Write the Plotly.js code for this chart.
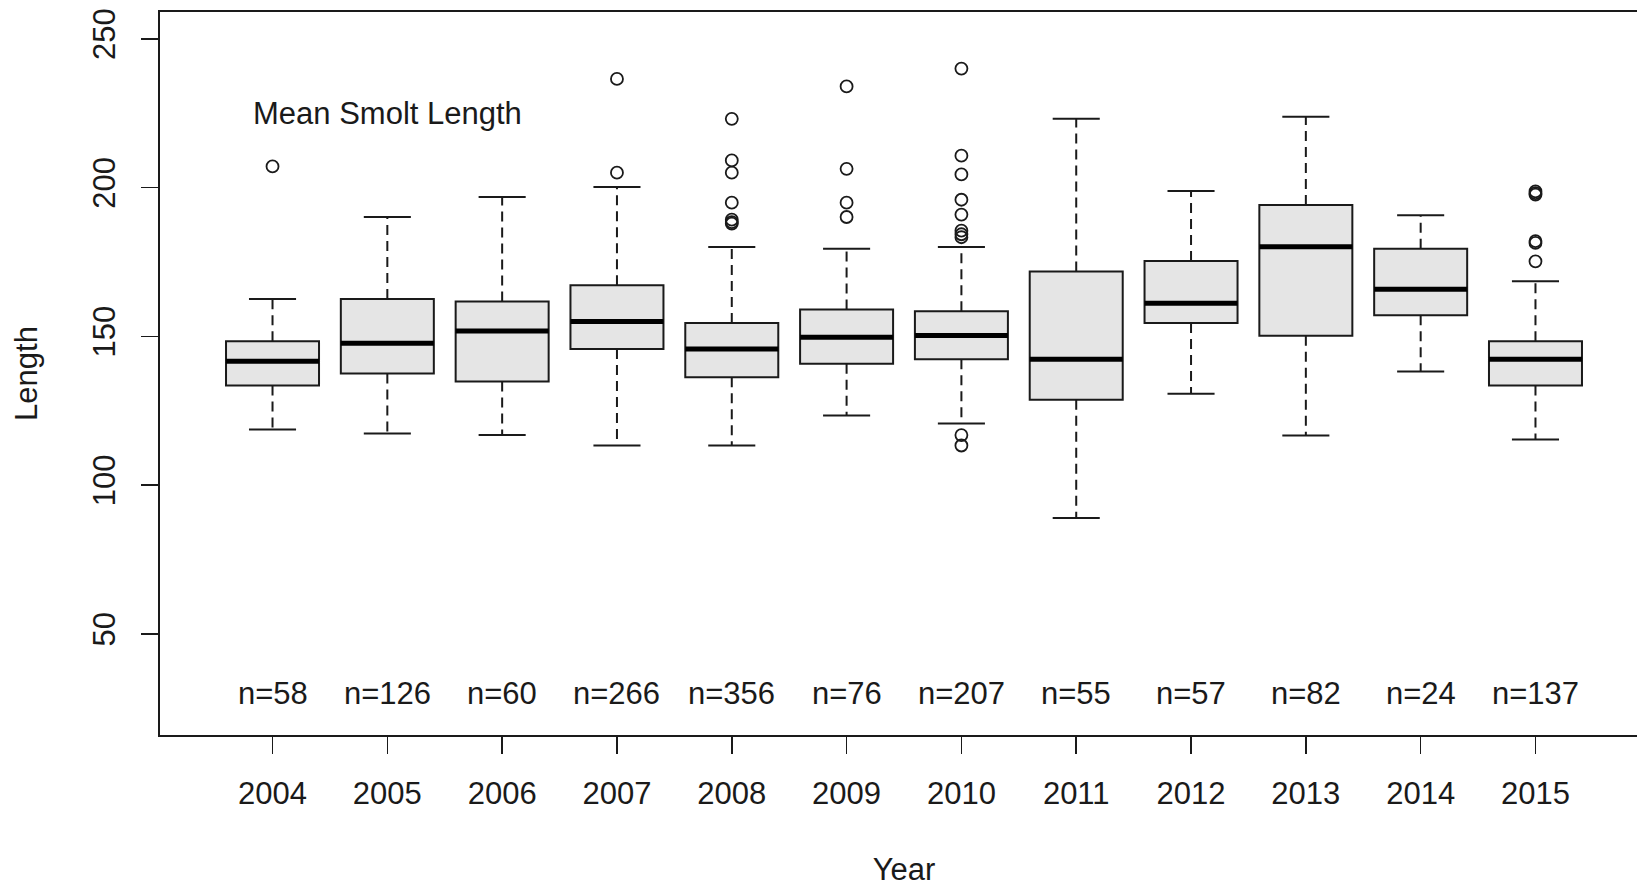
<!DOCTYPE html>
<html>
<head>
<meta charset="utf-8">
<script src="https://cdn.plot.ly/plotly-3.0.1.min.js"></script>
<style>
  html, body { margin: 0; padding: 0; overflow: hidden; background: #fff; }
  #chart { width: 1648px; height: 890px; }
</style>
</head>
<body>
<div id="chart"></div>
<script>
// Smolt length by sampling year: box statistics, outliers and sample sizes
const years = [2004, 2005, 2006, 2007, 2008, 2009, 2010, 2011, 2012, 2013, 2014, 2015];
const q1 = [133.5, 137.5, 134.8, 145.7, 136.2, 140.8, 142.3, 128.7, 154.5, 150.2, 157.1, 133.5];
const median = [141.6, 147.7, 151.8, 155.0, 145.7, 149.7, 150.3, 142.3, 161.1, 180.1, 165.8, 142.3];
const q3 = [148.3, 162.5, 161.7, 167.2, 154.5, 159.0, 158.4, 171.8, 175.3, 194.1, 179.4, 148.3];
const lowerWhisker = [118.7, 117.3, 116.8, 113.3, 113.3, 123.4, 120.7, 88.9, 130.7, 116.7, 138.2, 115.3];
const upperWhisker = [162.5, 190.1, 196.8, 200.2, 180.0, 179.4, 180.0, 223.1, 198.8, 223.8, 190.7, 168.5];
const outliers = [
  [207.1],
  [],
  [],
  [236.5, 205.0],
  [223.1, 209.1, 205.0, 194.9, 189.2, 188.4, 187.9],
  [234.0, 206.3, 194.9, 190.1],
  [240.0, 210.7, 204.4, 195.9, 190.9, 185.5, 184.3, 183.3, 116.8, 113.3],
  [],
  [],
  [],
  [],
  [198.7, 198.1, 197.6, 182.0, 181.4, 175.2]
];
const sampleSizes = [58, 126, 60, 266, 356, 76, 207, 55, 57, 82, 24, 137];
const noteText = 'Mean Smolt Length';

const FONT = 'Liberation Sans, Arial, sans-serif';
const INK = '#1a1a1a';
const BOX_HALF = 0.405;   // half of the box width, in category units
const CAP_HALF = 0.205;   // half of the whisker cap width

// segment builders: each year contributes one segment followed by a gap
function hSegments(values, half) {
  const xs = [], ys = [];
  years.forEach((yr, i) => { xs.push(yr - half, yr + half, null); ys.push(values[i], values[i], null); });
  return { x: xs, y: ys };
}
function vSegments(from, to) {
  const xs = [], ys = [];
  years.forEach((yr, i) => { xs.push(yr, yr, null); ys.push(from[i], to[i], null); });
  return { x: xs, y: ys };
}

const boxes = {
  type: 'box',
  x: years,
  q1: q1,
  median: median,
  q3: q3,
  lowerfence: q1,
  upperfence: q3,
  width: BOX_HALF * 2,
  whiskerwidth: 0,
  boxpoints: false,
  fillcolor: '#e5e5e5',
  line: { color: INK, width: 2 },
  hoverinfo: 'skip',
  showlegend: false
};

const upperW = vSegments(q3, upperWhisker);
const lowerW = vSegments(q1, lowerWhisker);
const whiskers = {
  type: 'scatter', mode: 'lines',
  x: upperW.x.concat(lowerW.x),
  y: upperW.y.concat(lowerW.y),
  line: { color: INK, width: 2, dash: '10px,6px' },
  hoverinfo: 'skip', showlegend: false
};

const capHi = hSegments(upperWhisker, CAP_HALF);
const capLo = hSegments(lowerWhisker, CAP_HALF);
const caps = {
  type: 'scatter', mode: 'lines',
  x: capHi.x.concat(capLo.x),
  y: capHi.y.concat(capLo.y),
  line: { color: INK, width: 2 },
  hoverinfo: 'skip', showlegend: false
};

const med = hSegments(median, BOX_HALF);
const medians = {
  type: 'scatter', mode: 'lines',
  x: med.x, y: med.y,
  line: { color: '#000', width: 5 },
  hoverinfo: 'skip', showlegend: false
};

const outX = [], outY = [];
years.forEach((yr, i) => outliers[i].forEach(v => { outX.push(yr); outY.push(v); }));
const points = {
  type: 'scatter', mode: 'markers',
  x: outX, y: outY,
  marker: { symbol: 'circle-open', size: 12, color: INK, line: { width: 1.8, color: INK } },
  hoverinfo: 'skip', showlegend: false
};

const annotations = years.map((yr, i) => ({
  x: yr, y: 30, xref: 'x', yref: 'y',
  text: 'n=' + sampleSizes[i],
  showarrow: false,
  font: { family: FONT, size: 31, color: INK }
}));
annotations.push({
  x: years[1], y: 225, xref: 'x', yref: 'y',
  text: noteText, showarrow: false,
  font: { family: FONT, size: 31, color: INK }
});

const layout = {
  width: 1648,
  height: 890,
  margin: { l: 160, r: 0, t: 12, b: 155 },
  paper_bgcolor: '#fff',
  plot_bgcolor: '#fff',
  font: { family: FONT, size: 31, color: INK },
  showlegend: false,
  xaxis: {
    range: [2003.02, 2015.98],
    tickmode: 'array',
    tickvals: years,
    ticktext: years.map(String),
    ticks: 'outside', ticklen: 17, tickwidth: 1.6, tickcolor: INK,
    showline: true, linecolor: INK, linewidth: 1.8, mirror: true,
    showgrid: false, zeroline: false,
    tickfont: { family: FONT, size: 31, color: INK },
    ticklabelstandoff: 13,
    title: { text: 'Year', font: { family: FONT, size: 31, color: INK }, standoff: 48 }
  },
  yaxis: {
    range: [16, 259],
    tickmode: 'array',
    tickvals: [50, 100, 150, 200, 250],
    ticktext: ['50', '100', '150', '200', '250'],
    tickangle: -90,
    ticks: 'outside', ticklen: 17, tickwidth: 1.6, tickcolor: INK,
    showline: true, linecolor: INK, linewidth: 1.8, mirror: true,
    showgrid: false, zeroline: false,
    tickfont: { family: FONT, size: 31, color: INK },
    ticklabelstandoff: 14,
    title: { text: 'Length', font: { family: FONT, size: 31, color: INK }, standoff: 40 }
  },
  annotations: annotations
};

Plotly.newPlot('chart', [boxes, whiskers, caps, medians, points], layout, { displayModeBar: false, staticPlot: true });
</script>
</body>
</html>
